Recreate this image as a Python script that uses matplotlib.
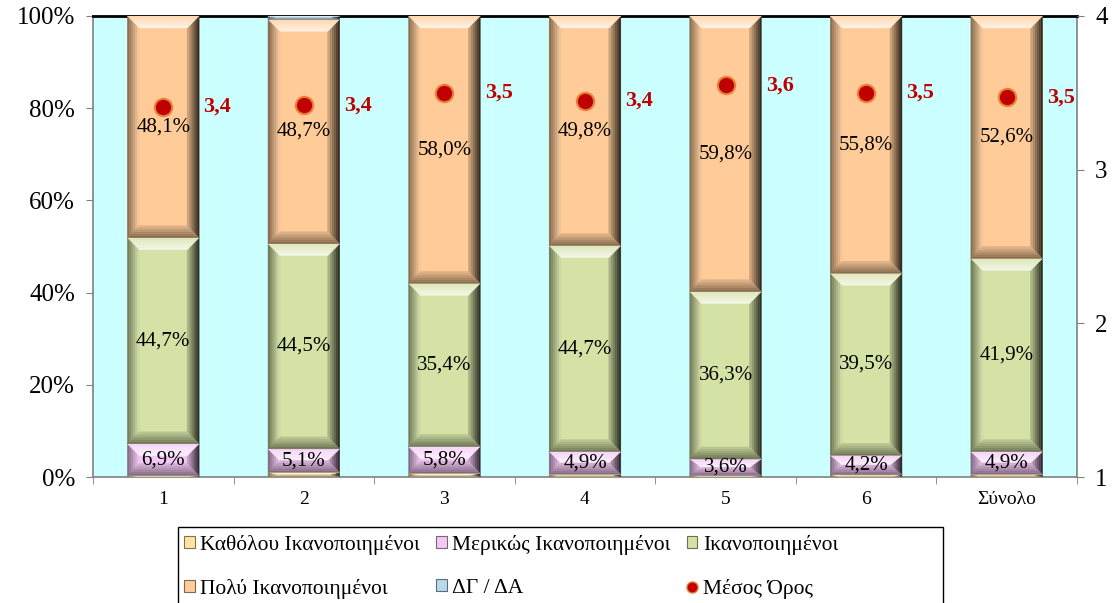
import matplotlib
matplotlib.use("Agg")
import matplotlib.pyplot as plt
import numpy as np
from matplotlib.collections import PolyCollection
from matplotlib.colors import to_rgb
from matplotlib.patches import Patch, Rectangle
from matplotlib.lines import Line2D

plt.rcParams["font.family"] = ["Liberation Serif", "DejaVu Serif"]

# --- data ---
categories = ["1", "2", "3", "4", "5", "6", "Σύνολο"]
series_names = ["Καθόλου Ικανοποιημένοι", "Μερικώς Ικανοποιημένοι",
                "Ικανοποιημένοι", "Πολύ Ικανοποιημένοι", "ΔΓ / ΔΑ"]
not_at_all = [0.3, 1.0, 0.8, 0.6, 0.3, 0.5, 0.6]
partly = [6.9, 5.1, 5.8, 4.9, 3.6, 4.2, 4.9]
satisfied = [44.7, 44.5, 35.4, 44.7, 36.3, 39.5, 41.9]
very = [48.1, 48.7, 58.0, 49.8, 59.8, 55.8, 52.6]
dk_na = [0.0, 0.7, 0.0, 0.0, 0.0, 0.0, 0.0]
mean_score = [3.41, 3.42, 3.50, 3.45, 3.55, 3.50, 3.47]
mean_labels = ["3,4", "3,4", "3,5", "3,4", "3,6", "3,5", "3,5"]

colors = ["#FFE4A0", "#F4C8F4", "#D4E2A6", "#FFCC99", "#B8D8EC"]
bg = "#CCFFFF"
red = "#C00000"

W, H = 1116, 603
fig = plt.figure(figsize=(W / 100, H / 100), dpi=100)
ax = fig.add_axes([93 / W, 1 - 477 / H, (1077 - 93) / W, (477 - 16) / H])
ax.set_facecolor(bg)

x = np.arange(len(categories))
width = 0.51
series = [not_at_all, partly, satisfied, very, dk_na]

ax.set_xlim(-0.5, len(categories) - 0.5)
ax.set_ylim(0, 100)

# bevel size in pixels -> data units
bevel_px = 12
px_x = ax.get_position().width * W / (len(categories))
px_y = ax.get_position().height * H / 100.0
bdx = bevel_px / px_x
bdy = bevel_px / px_y


def mix(c, other, t):
    c = np.array(to_rgb(c))
    o = np.array(to_rgb(other))
    return tuple(c * (1 - t) + o * t)


def bevel(patch, face):
    x0, y0 = patch.get_x(), patch.get_y()
    w, h = patch.get_width(), patch.get_height()
    if h <= 0:
        return
    x1, y1 = x0 + w, y0 + h
    dy = min(bdy, h / 2.0)
    dx = bdx
    polys, cols = [], []
    n = 6
    sides = {
        "top": (mix(face, "white", 0.2), mix(face, "white", 0.75)),
        "bottom": (mix(face, "black", 0.5), mix(face, "black", 0.1)),
        "left": (mix(face, "black", 0.5), mix(face, "white", 0.05)),
        "right": (mix(face, "black", 0.85), mix(face, "black", 0.15)),
    }
    for i in range(n):
        t0, t1 = i / n, (i + 1) / n
        tm = (t0 + t1) / 2
        # left
        polys.append([(x0 + t0 * dx, y0 + t0 * dy), (x0 + t1 * dx, y0 + t1 * dy),
                      (x0 + t1 * dx, y1 - t1 * dy), (x0 + t0 * dx, y1 - t0 * dy)])
        cols.append(mix(sides["left"][0], sides["left"][1], tm))
        # right
        polys.append([(x1 - t0 * dx, y0 + t0 * dy), (x1 - t1 * dx, y0 + t1 * dy),
                      (x1 - t1 * dx, y1 - t1 * dy), (x1 - t0 * dx, y1 - t0 * dy)])
        cols.append(mix(sides["right"][0], sides["right"][1], tm))
        # top
        polys.append([(x0 + t0 * dx, y1 - t0 * dy), (x1 - t0 * dx, y1 - t0 * dy),
                      (x1 - t1 * dx, y1 - t1 * dy), (x0 + t1 * dx, y1 - t1 * dy)])
        cols.append(mix(sides["top"][0], sides["top"][1], tm))
        # bottom
        polys.append([(x0 + t0 * dx, y0 + t0 * dy), (x1 - t0 * dx, y0 + t0 * dy),
                      (x1 - t1 * dx, y0 + t1 * dy), (x0 + t1 * dx, y0 + t1 * dy)])
        cols.append(mix(sides["bottom"][0], sides["bottom"][1], tm))
    ax.add_collection(PolyCollection(polys, facecolors=cols, edgecolors=cols,
                                     linewidths=0.3, zorder=3))


bottom = np.zeros(len(categories))
for vals, col in zip(series, colors):
    bars = ax.bar(x, vals, width, bottom=bottom, color=col, zorder=2,
                  linewidth=0)
    for p in bars.patches:
        bevel(p, col)
    bottom += np.array(vals)

# segment labels
label_series = [1, 2, 3]
bottom = np.zeros(len(categories))
for k, vals in enumerate(series):
    if k in label_series:
        for i, v in enumerate(vals):
            ax.text(x[i], bottom[i] + v / 2, f"{v:.1f}%".replace(".", ","),
                    ha="center", va="center", fontsize=15, zorder=5)
    bottom += np.array(vals)

# axes styling
ax.set_yticks(np.arange(0, 101, 20))
ax.set_yticklabels([f"{v}%" for v in range(0, 101, 20)], fontsize=18)
ax.set_xticks(x)
ax.set_xticklabels(categories, fontsize=14)
ax.set_xticks(np.arange(-0.5, len(categories), 1), minor=True)
ax.tick_params(axis="x", which="major", length=0, pad=10)
ax.tick_params(axis="x", which="minor", length=5, color="#808080",
               direction="out")
ax.tick_params(axis="y", length=5, color="#808080", direction="out", pad=8)
for s in ["left", "bottom", "right"]:
    ax.spines[s].set_color("#808080")
    ax.spines[s].set_linewidth(1.2)
ax.spines["top"].set_color("black")
ax.spines["top"].set_linewidth(2)

# mean on secondary axis
ax2 = ax.twinx()
ax2.set_ylim(1, 4)
ax2.set_yticks([1, 2, 3, 4])
ax2.set_yticklabels(["1", "2", "3", "4"], fontsize=18)
ax2.tick_params(axis="y", length=5, color="#808080", direction="out", pad=8)
for s in ["left", "bottom", "right", "top"]:
    ax2.spines[s].set_visible(False)
ax2.plot(x, mean_score, linestyle="none", marker="o", markersize=12.5,
         markerfacecolor=red, markeredgecolor="#E8803A", markeredgewidth=1.5,
         zorder=6)
for xi, m, lab in zip(x, mean_score, mean_labels):
    ax2.annotate(lab, (xi, m), xytext=(29, 0), textcoords="offset points",
                 ha="left", va="center", fontsize=16, fontweight="bold",
                 color=red)

# legend
handles = [Patch(facecolor=c, edgecolor=mix(c, "black", 0.5), linewidth=0.8)
           for c in colors]
mean_handle = Line2D([], [], linestyle="none", marker="o", markersize=8,
                     markerfacecolor=red, markeredgecolor="#E8803A")
order_h = [handles[0], handles[3], handles[1], handles[4], handles[2], mean_handle]
order_l = [series_names[0], series_names[3], series_names[1], series_names[4],
           series_names[2], "Μέσος Όρος"]
leg = fig.legend(order_h, order_l, ncol=3, loc="upper left",
                 bbox_to_anchor=(184 / W, 1 - 535 / H), fontsize=15.5,
                 frameon=False, handlelength=0.5, handleheight=0.5,
                 handletextpad=0.25, columnspacing=0.75, labelspacing=1.1,
                 borderpad=0, borderaxespad=0)
fig.patches.append(Rectangle((178 / W, -0.05), (943 - 178) / W,
                             (603 - 527) / H + 0.05, transform=fig.transFigure,
                             fill=False, edgecolor="black", linewidth=1.0))

fig.savefig("out.png", dpi=100)
